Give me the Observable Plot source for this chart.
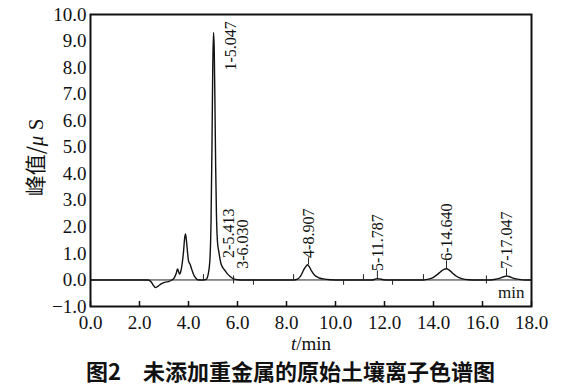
<!DOCTYPE html>
<html>
<head>
<meta charset="utf-8">
<script src="https://cdn.jsdelivr.net/npm/d3@7"></script>
<script src="https://cdn.jsdelivr.net/npm/@observablehq/plot@0.6"></script>
<style>
  html, body { margin: 0; padding: 0; background: #fff; }
  #chart { width: 581px; height: 356px; }
  #caption { width: 581px; text-align: center; font-family: "Noto Sans CJK SC", sans-serif; font-weight: bold; font-size: 22px; line-height: 28px; white-space: pre; color: #111; }
</style>
</head>
<body>
<div id="chart"></div>
<div id="caption"></div>
<script>
// ---- data ----
const traceT = [0, 2.35, 2.48, 2.58, 2.65, 2.75, 2.9, 3.05, 3.18, 3.3, 3.42, 3.5, 3.55, 3.6, 3.63, 3.68, 3.74, 3.8, 3.84, 3.88, 3.93, 3.97, 4.0, 4.06, 4.14, 4.22, 4.3, 4.37, 4.6, 4.72, 4.8, 4.87, 4.92, 4.96, 4.99, 5.02, 5.05, 5.08, 5.11, 5.14, 5.18, 5.24, 5.33, 5.41, 5.5, 5.59, 5.7, 5.84, 6.0, 6.3, 8.3, 8.45, 8.58, 8.7, 8.8, 8.86, 8.93, 9.02, 9.15, 9.3, 9.5, 9.8, 10.2, 11.5, 11.62, 11.71, 11.8, 11.95, 12.2, 13.6, 13.8, 13.98, 14.15, 14.3, 14.43, 14.53, 14.63, 14.78, 14.95, 15.15, 15.43, 15.8, 16.33, 16.55, 16.75, 16.9, 16.98, 17.08, 17.25, 17.5, 17.76, 18];
const traceV = [0, 0, -0.08, -0.22, -0.29, -0.24, -0.14, -0.08, -0.06, -0.01, 0.08, 0.25, 0.41, 0.3, 0.22, 0.3, 0.6, 1.1, 1.55, 1.73, 1.35, 0.95, 0.72, 0.6, 0.38, 0.18, 0.07, 0.01, 0, 0.02, 0.2, 0.7, 2.2, 5.2, 8.0, 9.32, 8.7, 6.6, 4.2, 2.5, 1.47, 1.05, 0.6, 0.45, 0.34, 0.23, 0.13, 0.04, 0.01, 0, 0, 0.03, 0.15, 0.38, 0.52, 0.57, 0.5, 0.34, 0.18, 0.09, 0.04, 0.01, 0, 0, 0.03, 0.05, 0.04, 0.01, 0, 0, 0.03, 0.09, 0.2, 0.32, 0.4, 0.42, 0.38, 0.25, 0.13, 0.05, 0.01, 0, 0, 0.03, 0.08, 0.13, 0.15, 0.13, 0.07, 0.02, 0, 0];

const peakNo    = [1, 2, 3, 4, 5, 6, 7];
const peakTime  = [5.047, 5.413, 6.030, 8.907, 11.787, 14.640, 17.047];
const peakApexT = [5.02, 5.41, 6.0, 8.86, 11.71, 14.53, 16.98];
const peakApexV = [9.32, 0.45, 0.01, 0.57, 0.05, 0.42, 0.15];
const labelT    = [5.71, 5.63, 6.2, 8.9, 11.71, 14.53, 16.98];
const labelV    = [7.89, 0.83, 0.42, 0.83, 0.34, 0.72, 0.42];
const hasLeader = [false, false, false, true, true, true, true];

const markT  = [4.61, 5.84, 6.65, 8.29, 10.33, 11.14, 12.33, 13.59, 16.16];
const markLo = [0, -0.15, -0.2, 0, -0.2, 0, -0.2, 0, -0.15];
const markHi = [0.2, 0.15, 0, 0.2, 0, 0.2, 0, 0.2, 0.15];

const xTicks = [0, 2, 4, 6, 8, 10, 12, 14, 16, 18];
const yTicks = [-1, 0, 1, 2, 3, 4, 5, 6, 7, 8, 9, 10];
const xTitle = "t/min";
const yTitle = "峰值/μ S";
const unitNote = "min";
const captionText = "图2　未添加重金属的原始土壤离子色谱图";

// ---- tables ----
const trace = traceT.map((t, i) => ({t, v: traceV[i]}));
const peaks = peakNo.map((n, i) => ({
  label: `${n}-${peakTime[i].toFixed(3)}`,
  ax: peakApexT[i], ay: peakApexV[i], lx: labelT[i], ly: labelV[i], leader: hasLeader[i]
}));
const marks = markT.map((t, i) => ({t, lo: markLo[i], hi: markHi[i]}));

const serif = "'Liberation Serif', 'Times New Roman', serif";

const chart = Plot.plot({
  width: 581,
  height: 356,
  marginLeft: 90,
  marginRight: 50,
  marginTop: 14,
  marginBottom: 50,
  style: {fontFamily: serif, color: "#111", background: "#fff", overflow: "visible"},
  x: {domain: [0, 18]},
  y: {domain: [-1, 10]},
  marks: [
    Plot.ruleY([0], {stroke: "#222", strokeWidth: 1}),
    Plot.line(trace, {x: "t", y: "v", stroke: "#111", strokeWidth: 1.4, curve: "monotone-x"}),
    Plot.ruleX(marks, {x: "t", y1: "lo", y2: "hi", stroke: "#222", strokeWidth: 1}),
    Plot.ruleX(peaks.filter(d => d.leader), {x: "lx", y1: "ay", y2: "ly", stroke: "#222", strokeWidth: 1}),
    Plot.text(peaks, {x: "lx", y: "ly", text: "label", rotate: -90, textAnchor: "start", lineAnchor: "middle", fontSize: 16, fill: "#111"}),
    Plot.axisX({ticks: xTicks, tickFormat: ".1f", tickSize: -5, tickPadding: 14, fontSize: 19, label: null, stroke: "#111", strokeWidth: 1.5}),
    Plot.axisY({ticks: yTicks, tickFormat: ".1f", tickSize: 0, tickPadding: 4, fontSize: 19, label: null}),
    Plot.text([xTitle], {frameAnchor: "bottom", textAnchor: "middle", dy: 43, fontSize: 19, fill: "#111"}),
    Plot.text([yTitle], {frameAnchor: "left", textAnchor: "middle", rotate: -90, dx: -54, dy: -3, fontSize: 21, fill: "#111", fontFamily: "'Noto Sans CJK SC', sans-serif"}),
    Plot.text([unitNote], {frameAnchor: "bottom-right", textAnchor: "end", dx: -7, dy: -9, fontSize: 17, fill: "#111"}),
    Plot.frame({stroke: "#111", strokeWidth: 2})
  ]
});
document.getElementById("chart").appendChild(chart);
document.getElementById("caption").textContent = captionText;

// italic parts of axis titles
d3.select(chart).selectAll("text").each(function () {
  const el = d3.select(this);
  const s = this.textContent;
  if (s === xTitle) {
    el.text("");
    el.append("tspan").attr("font-style", "italic").text("t");
    el.append("tspan").text("/min");
  } else if (s === yTitle) {
    el.text("");
    el.append("tspan").text("峰值/");
    el.append("tspan").attr("font-style", "italic").attr("font-family", serif).text("μ");
    el.append("tspan").attr("font-family", serif).text(" S");
  }
});
</script>
</body>
</html>
